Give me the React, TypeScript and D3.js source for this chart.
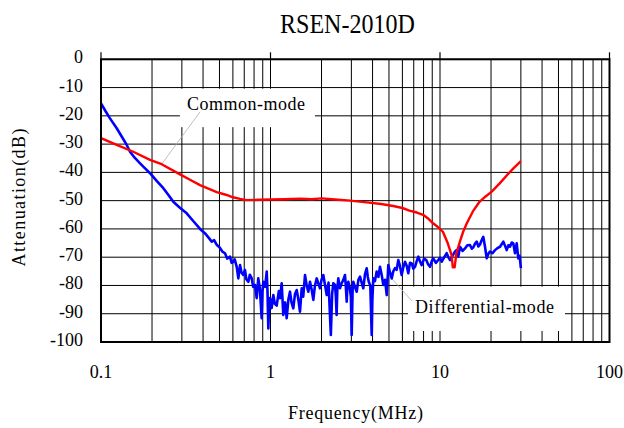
import React from 'react';
import * as d3 from 'd3';

const W = 624;
const H = 428;

const titleText = 'RSEN-2010D';
const xAxisTitle = 'Frequency(MHz)';
const yAxisTitle = 'Attenuation(dB)';

const xDomain: [number, number] = [0.1, 100];
const yDomain: [number, number] = [-100, 0];
const xTickValues = [0.1, 1, 10, 100];
const xTickLabels = ['0.1', '1', '10', '100'];
const yTickValues = [0, -10, -20, -30, -40, -50, -60, -70, -80, -90, -100];
const yTickLabels = ['0', '-10', '-20', '-30', '-40', '-50', '-60', '-70', '-80', '-90', '-100'];

// Common-mode (red)  [MHz, dB]
const commonMode: [number, number][] = [
  [0.1, -27.9], [0.1238, -30.3], [0.155, -32.7], [0.1946, -35.6], [0.228, -37.1],
  [0.2925, -40.7], [0.335, -42.6], [0.384, -44.5], [0.4815, -47], [0.5515, -48],
  [0.6, -48.8], [0.661, -49.4], [0.72, -49.8], [0.867, -49.7], [1.0, -49.6],
  [1.2, -49.5], [1.5, -49.3], [1.75, -49.5], [2.0, -49.2], [2.4, -49.6],
  [2.95, -50], [3.7, -50.6], [4.5, -51.2], [5.3, -51.9], [6.0, -52.6],
  [6.6, -53.5], [7.3, -54.2], [7.95, -55], [8.5, -56.3], [9.1, -58],
  [9.8, -59.5], [10.4, -61], [11.1, -65], [11.7, -69.2], [11.9, -73.6],
  [12.2, -73.6], [12.5, -68.6], [13.1, -64.5], [13.7, -61], [14.4, -58],
  [15.6, -53.9], [17.1, -50.4], [18.5, -48.6], [20.2, -46.8], [22.5, -43.9],
  [24.9, -40.9], [27.2, -38.5], [30, -36],
];

// Differential-mode (blue)  [MHz, dB]
const diffMode: [number, number][] = [
  [0.1, -15.6], [0.106, -18.2], [0.113, -20.9], [0.1238, -24.4], [0.133, -27.5],
  [0.1418, -30.3], [0.1483, -32.7], [0.158, -34.8], [0.17, -36.8], [0.182, -38.6],
  [0.1946, -40.3], [0.213, -43], [0.2332, -45.6], [0.25, -48], [0.267, -50.4],
  [0.292, -52.5], [0.3204, -54.5], [0.35, -57.2], [0.384, -60], [0.41, -61.5],
  [0.43, -63], [0.45, -64.5], [0.465, -64], [0.483, -65.7], [0.5, -66.5],
  [0.52, -68], [0.539, -68.6], [0.555, -70.5], [0.577, -69.8], [0.59, -72],
  [0.603, -71.6], [0.615, -70.8], [0.632, -73.4], [0.646, -77.5], [0.661, -72.8],
  [0.675, -75.5], [0.691, -76.3], [0.707, -74.5], [0.72, -77.8], [0.74, -78.7],
  [0.755, -76.2], [0.775, -77.5], [0.79, -80.5], [0.81, -79.8], [0.829, -84.5],
  [0.847, -77.5], [0.865, -81], [0.887, -91.6], [0.897, -82], [0.907, -78.7],
  [0.93, -80.5], [0.95, -75.1], [0.96, -82], [0.971, -95.2], [0.982, -86],
  [0.993, -84.5], [1.015, -88], [1.039, -83.4], [1.06, -86.5], [1.088, -87.1],
  [1.12, -82], [1.14, -84.5], [1.164, -79.2], [1.19, -90.4], [1.22, -86],
  [1.246, -91.6], [1.275, -85], [1.303, -82.2], [1.33, -86], [1.363, -88.1],
  [1.395, -83], [1.428, -81.6], [1.46, -85], [1.493, -89.3], [1.528, -81],
  [1.56, -84], [1.598, -76.3], [1.635, -80], [1.671, -82.2], [1.71, -78.7],
  [1.75, -81.5], [1.789, -85.1], [1.83, -80], [1.874, -77.5], [1.92, -79.5],
  [1.959, -81], [2.0, -78], [2.049, -76.3], [2.1, -80], [2.146, -83.4],
  [2.2, -79], [2.27, -97.5], [2.31, -83], [2.347, -79.2], [2.402, -79.8],
  [2.43, -84], [2.455, -90.4], [2.48, -81], [2.512, -77.5], [2.57, -81],
  [2.63, -79.2], [2.69, -78], [2.751, -76.3], [2.78, -80], [2.816, -85.7],
  [2.845, -80], [2.877, -78.7], [2.94, -81], [2.98, -84], [3.013, -97.5],
  [3.05, -82], [3.081, -78.7], [3.15, -80.5], [3.226, -82.2], [3.3, -78],
  [3.373, -76.9], [3.45, -79], [3.528, -81], [3.61, -76], [3.695, -73.9],
  [3.75, -77], [3.8, -78.7], [3.88, -80], [3.954, -97.5], [3.99, -85],
  [4.041, -77.5], [4.13, -78.5], [4.231, -75.1], [4.33, -77], [4.426, -73.4],
  [4.52, -76], [4.63, -79.8], [4.74, -78], [4.85, -83.4], [4.955, -72.8],
  [5.07, -75.5], [5.19, -77.5], [5.3, -75], [5.427, -73.9], [5.55, -74.5],
  [5.675, -71], [5.8, -73], [5.94, -76.3], [6.08, -73.5], [6.217, -71.6],
  [6.36, -73], [6.5, -75.7], [6.65, -72], [6.81, -72.2], [6.96, -74],
  [7.12, -73.4], [7.28, -71.5], [7.45, -69.8], [7.62, -71.5], [7.8, -72.8],
  [8.05, -70.5], [8.3, -71], [8.5, -72.5], [8.73, -73.4], [8.93, -71.5],
  [9.13, -70.4], [9.45, -72], [9.77, -71], [10.0, -70.2], [10.24, -71.6],
  [10.6, -70], [10.95, -68.6], [11.2, -70], [11.46, -71], [11.85, -69.5],
  [12.26, -68], [12.55, -67.5], [12.82, -69.8], [13.12, -66.3], [13.6, -67.8],
  [14.05, -66.9], [14.5, -65.8], [15.03, -65.7], [15.4, -67], [15.73, -66.5],
  [16.1, -65.2], [16.47, -64.5], [16.85, -66.2], [17.22, -65.5], [17.6, -64],
  [18.0, -62.8], [18.43, -66.3], [18.86, -70.4], [19.3, -68.8], [19.72, -68],
  [20.4, -68.6], [21.11, -67.5], [21.8, -66.8], [22.6, -66.3], [23.1, -65.4],
  [23.64, -64.5], [24.2, -66], [24.75, -67.5], [25.3, -65.8], [25.88, -66.3],
  [26.5, -64.8], [27.07, -65.1], [27.7, -68.6], [28.35, -65.1], [28.97, -70.4],
  [29.5, -69.5], [30, -73.9],
];

// annotations in data units
const cmLabel = { text: 'Common-mode', f: 0.717, db: -17.9, box: [0.292, 1.83, -10.4, -24] as number[], lead: [0.384, -18.6, 0.228, -37.1] as number[] };
const dmLabel = { text: 'Differential-mode', f: 18.3, db: -89.7, box: [6.47, 54.6, -80.4, -96.1] as number[], lead: [5.21, -77.7, 6.84, -85.5] as number[] };

const FONT = '"Liberation Serif", "Times New Roman", serif';

export default function App() {
  const x = d3.scaleLog().domain(xDomain).range([101, 609.5]);
  const y = d3.scaleLinear().domain(yDomain).range([342, 59.3]);
  const line = d3
    .line<[number, number]>()
    .x((d) => x(d[0]))
    .y((d) => y(d[1]));
  const vGrid = x.ticks();
  const [x0, x1] = x.range();
  const [yb, yt] = y.range();

  const renderLabel = (l: typeof cmLabel, len: number) => {
    const bx0 = x(l.box[0]);
    const bx1 = x(l.box[1]);
    const by0 = y(l.box[2]);
    const by1 = y(l.box[3]);
    return (
      <g>
        <rect x={bx0} y={by0} width={bx1 - bx0} height={by1 - by0} fill="#fff" />
        <line x1={x(l.lead[0])} y1={y(l.lead[1])} x2={x(l.lead[2])} y2={y(l.lead[3])} stroke="#b0b0b0" strokeWidth={0.8} />
        <text x={x(l.f)} y={y(l.db)} textAnchor="middle" fontSize={18} fontFamily={FONT} textLength={len} lengthAdjust="spacing">
          {l.text}
        </text>
      </g>
    );
  };

  return (
    <svg width={W} height={H} style={{ position: 'absolute', left: 0, top: 0, background: '#fff' }}>
      <rect width={W} height={H} fill="#fff" />
      {yTickValues.map((v) => (
        <line key={'h' + v} x1={x0} x2={x1} y1={y(v)} y2={y(v)} stroke="#000" strokeWidth={1} />
      ))}
      {vGrid.map((v, i) => (
        <line key={'v' + i} x1={x(v)} x2={x(v)} y1={yt} y2={yb} stroke="#000" strokeWidth={1} />
      ))}
      {renderLabel(cmLabel, 118)}
      {renderLabel(dmLabel, 139)}
      <path d={line(diffMode) || ''} fill="none" stroke="#0000ff" strokeWidth={2.6} strokeLinejoin="round" />
      <path d={line(commonMode) || ''} fill="none" stroke="#ff0000" strokeWidth={2.4} strokeLinejoin="round" />
      <rect x={x0} y={yt} width={x1 - x0} height={yb - yt} fill="none" stroke="#000" strokeWidth={2} />
      {xTickValues.map((v) => (
        <line key={'t' + v} x1={x(v)} x2={x(v)} y1={yt - 7} y2={yt} stroke="#000" strokeWidth={1.2} />
      ))}
      {yTickValues.map((v, i) => (
        <text key={'yl' + v} x={83} y={y(v) + 4} textAnchor="end" fontSize={18} fontFamily={FONT}>
          {yTickLabels[i]}
        </text>
      ))}
      {xTickValues.map((v, i) => (
        <text key={'xl' + v} x={x(v)} y={378} textAnchor="middle" fontSize={18} fontFamily={FONT}>
          {xTickLabels[i]}
        </text>
      ))}
      <text x={355.5} y={419} textAnchor="middle" fontSize={18} fontFamily={FONT} textLength={135} lengthAdjust="spacing">
        {xAxisTitle}
      </text>
      <text transform="translate(25,197.5) rotate(-90)" textAnchor="middle" fontSize={18} fontFamily={FONT} textLength={138} lengthAdjust="spacing">
        {yAxisTitle}
      </text>
      <text x={347.5} y={33} textAnchor="middle" fontSize={27} fontFamily={FONT} textLength={135} lengthAdjust="spacingAndGlyphs">
        {titleText}
      </text>
    </svg>
  );
}
